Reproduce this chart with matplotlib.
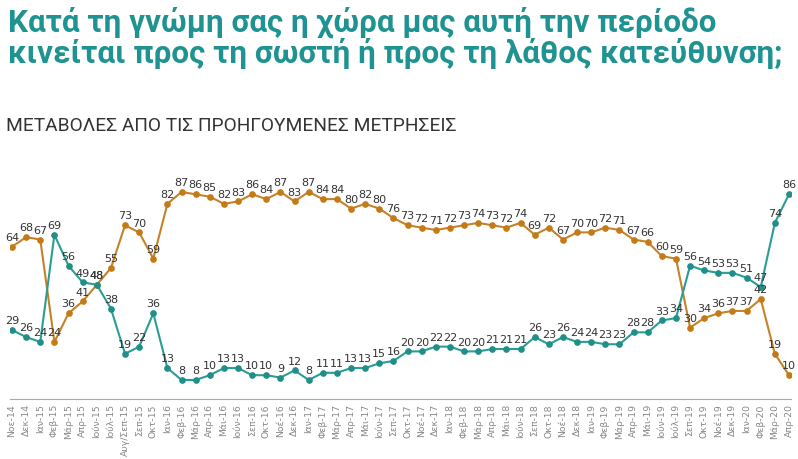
import matplotlib
matplotlib.use("Agg")
import matplotlib.pyplot as plt

months = ["Noε-14", "Δεκ-14", "Ιαν-15", "Φεβ-15", "Μάρ-15", "Απρ-15", "Ιούν-15",
          "Ιούλ-15", "Αυγ/Σεπ-15", "Σεπ-15", "Οκτ-15", "Ιαν-16", "Φεβ-16", "Μάρ-16",
          "Απρ-16", "Μάι-16", "Ιούν-16", "Σεπ-16", "Οκτ-16", "Νοέ-16", "Δεκ-16",
          "Ιαν-17", "Φεβ-17", "Μάρ-17", "Απρ-17", "Μάι-17", "Ιούν-17", "Σεπ-17",
          "Οκτ-17", "Νοέ-17", "Δεκ-17", "Ιαν-18", "Φεβ-18", "Μάρ-18", "Απρ-18",
          "Μάι-18", "Ιούν-18", "Σεπ-18", "Οκτ-18", "Νοέ-18", "Δεκ-18", "Ιαν-19",
          "Φεβ-19", "Μάρ-19", "Απρ-19", "Μάι-19", "Ιούν-19", "Ιούλ-19", "Σεπ-19",
          "Οκτ-19", "Νοέ-19", "Δεκ-19", "Ιαν-20", "Φεβ-20", "Μάρ-20", "Απρ-20"]

# "wrong direction" (orange)
wrong = [64, 68, 67, 24, 36, 41, 48, 55, 73, 70, 59, 82, 87, 86, 85, 82, 83, 86,
         84, 87, 83, 87, 84, 84, 80, 82, 80, 76, 73, 72, 71, 72, 73, 74, 73, 72,
         74, 69, 72, 67, 70, 70, 72, 71, 67, 66, 60, 59, 30, 34, 36, 37, 37, 42,
         19, 10]
# "right direction" (teal)
right = [29, 26, 24, 69, 56, 49, 48, 38, 19, 22, 36, 13, 8, 8, 10, 13, 13, 10,
         10, 9, 12, 8, 11, 11, 13, 13, 15, 16, 20, 20, 22, 22, 20, 20, 21, 21,
         21, 26, 23, 26, 24, 24, 23, 23, 28, 28, 33, 34, 56, 54, 53, 53, 51, 47,
         74, 86]

TEAL = "#2a9d95"
ORANGE = "#c4822a"

fig = plt.figure(figsize=(7.98, 4.6), dpi=100)
ax = fig.add_axes([9.9 / 798, 60 / 460, 781.2 / 798, 238 / 460])

x = list(range(len(months)))
ax.plot(x, wrong, color=ORANGE, lw=1.5, marker="o", ms=3.8, mfc="#c47a15",
        mec="#c47a15", zorder=3)
ax.plot(x, right, color=TEAL, lw=1.5, marker="o", ms=3.8, mfc="#1f8f88",
        mec="#1f8f88", zorder=3)

for series in (wrong, right):
    for i, v in enumerate(series):
        ax.annotate(str(v), (i, v), xytext=(0, 3.5), textcoords="offset points",
                    ha="center", va="bottom", fontsize=8, color="#333333",
                    family="DejaVu Sans", zorder=4)

ax.set_xlim(-0.15, len(months) - 1 + 0.15)
ax.set_ylim(0, 100)
ax.set_xticks(x)
ax.set_xticklabels(months, rotation=90, fontsize=6.7, color="#888888",
                   family="DejaVu Sans")
ax.tick_params(axis="x", length=0, pad=3)
ax.set_yticks([])
for side in ("top", "right", "left"):
    ax.spines[side].set_visible(False)
ax.spines["bottom"].set_color("#aaaaaa")
ax.spines["bottom"].set_linewidth(0.8)

fig.text(0.01, 1 - 32 / 460, "Κατά τη γνώμη σας η χώρα μας αυτή την περίοδο",
         fontsize=22.6, weight="bold", color="#1f9391", family="Roboto",
         va="baseline")
fig.text(0.01, 1 - 63 / 460, "κινείται προς τη σωστή ή προς τη λάθος κατεύθυνση;",
         fontsize=22.6, weight="bold", color="#1f9391", family="Roboto",
         va="baseline")
fig.text(0.007, 1 - 131 / 460, "ΜΕΤΑΒΟΛΕΣ ΑΠΟ ΤΙΣ ΠΡΟΗΓΟΥΜΕΝΕΣ ΜΕΤΡΗΣΕΙΣ",
         fontsize=13.8, color="#333333", family="Roboto",
         va="baseline")

fig.savefig("out.png", dpi=100, facecolor="white")
